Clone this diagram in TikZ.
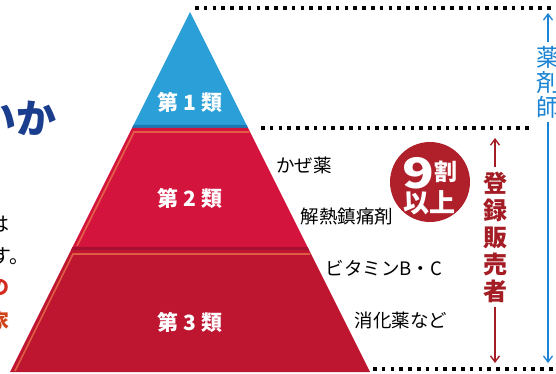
\documentclass[tikz,border=0pt]{standalone}
\usepackage{fontspec}
\newfontfamily\jp{Noto Sans CJK JP}
\usetikzlibrary{arrows.meta}

\definecolor{pyblue}{HTML}{2A9FD8}
\definecolor{pybluedark}{HTML}{1C78B4}
\definecolor{pyred}{HTML}{D3143C}
\definecolor{pyreddark}{HTML}{A51030}
\definecolor{pyredlow}{HTML}{BE1530}
\definecolor{bevelor}{HTML}{E8704A}
\definecolor{circred}{HTML}{B0202A}
\definecolor{darkred}{HTML}{A41C24}
\definecolor{arrowblue}{HTML}{1C84D4}
\definecolor{navy}{HTML}{1B3D8E}
\definecolor{fragred}{HTML}{D42A1E}
\definecolor{fragorange}{HTML}{D0421A}

\begin{document}
\begin{tikzpicture}[x=1pt,y=-1pt,font=\jp,
  dotline/.style={line width=3.4pt,dash pattern=on 3.6pt off 5.2pt,black},
  bevel/.style={line width=1.6pt,bevelor,opacity=.8},
  layer/.style={text=white,font=\jp\bfseries\fontsize{21}{21}\selectfont},
  drug/.style={black,font=\jp\fontsize{18.5}{18.5}\selectfont,inner sep=0pt},
  frag/.style={anchor=east,inner sep=0pt},
  barrow/.style={arrowblue,line width=1.3pt,-{Straight Barb[length=6pt,width=9pt]}},
  rarrow/.style={darkred,line width=1.4pt,-{Straight Barb[length=6pt,width=9pt]}}]
\useasboundingbox (0,0) rectangle (556,374);
\clip (0,0) rectangle (556,374);

% pyramid
\fill[pyblue] (190,12) -- (248,128) -- (132,128) -- cycle;
\fill[pybluedark] (133.5,125) -- (246.5,125) -- (248,128) -- (132,128) -- cycle;
\fill[pyred] (132,128) -- (248,128) -- (309,250) -- (71,250) -- cycle;
\fill[pyreddark] (72.5,247) -- (307.5,247) -- (309,250) -- (71,250) -- cycle;
\fill[pyredlow] (71,250) -- (309,250) -- (370,372) -- (10,372) -- cycle;
\draw[bevel] (77,246) -- (134,132) -- (249,132);
\draw[bevel] (15,371) -- (73,254) -- (310,254);

\node[layer] (dai1) at (190,102) {第\hspace{.25em}1\hspace{.25em}類};
\node[layer] (dai2) at (190,198) {第\hspace{.25em}2\hspace{.25em}類};
\node[layer] (dai3) at (190,322) {第\hspace{.25em}3\hspace{.25em}類};

% dotted levels
\draw[dotline] (195,8) -- (556,8);
\draw[dotline] (261,128) -- (530,128);
\draw[dotline] (373,369) -- (556,369);

% examples of class 2 and 3
\node[drug] (kaze) at (304,165) {かぜ薬};
\node[drug] (genetsu) at (347,217) {解熱鎮痛剤};
\node[drug] (vitamin) at (384,268) {ビタミンB・C};
\node[drug] (shouka) at (401,320) {消化薬など};

% 9 wari
\node[circle,fill=circred,minimum size=80pt,inner sep=0pt] (kuwari) at (430,182) {};
\node[text=white,font=\jp\bfseries\fontsize{42}{42}\selectfont,inner sep=0pt] (kyuu) at (418,173) {\scalebox{1.25}[1]{9}};
\node[text=white,font=\jp\bfseries\fontsize{23}{23}\selectfont,inner sep=0pt] (wari) at (446,172) {割};
\node[text=white,font=\jp\bfseries\fontsize{26}{26}\selectfont,inner sep=0pt] (ijou) at (429,203) {以上};

% who may sell
\node[darkred,font=\jp\bfseries\fontsize{24}{27}\selectfont,align=center,inner sep=4pt] (touroku) at (495,237) {登\\録\\販\\売\\者};
\coordinate (redtop) at (495,138);
\coordinate (redbot) at (495,363);
\draw[rarrow] (touroku.north) -- (redtop);
\draw[rarrow] (touroku.south) -- (redbot);

\node[arrowblue,font=\jp\fontsize{24}{25}\selectfont,align=center,inner sep=4pt] (yakuzai) at (548,82) {薬\\剤\\師};
\coordinate (bluetop) at (548,13);
\coordinate (bluebot) at (548,363);
\draw[barrow] (yakuzai.north) -- (bluetop);
\draw[barrow] (yakuzai.south) -- (bluebot);

% cut text at left edge
\node[frag,navy,font=\jp\bfseries\fontsize{40}{40}\selectfont] (ika) at (57,118) {いか};
\node[frag,black,font=\jp\fontsize{20}{20}\selectfont] (ha) at (10,224) {は};
\node[frag,black,font=\jp\fontsize{20}{20}\selectfont] (su) at (30,256) {す。};
\node[frag,fragred,font=\jp\bfseries\fontsize{20}{20}\selectfont] (no) at (10,287) {の};
\node[frag,fragorange,font=\jp\bfseries\fontsize{20}{20}\selectfont] (ie) at (10,321) {家};
\end{tikzpicture}
\end{document}
